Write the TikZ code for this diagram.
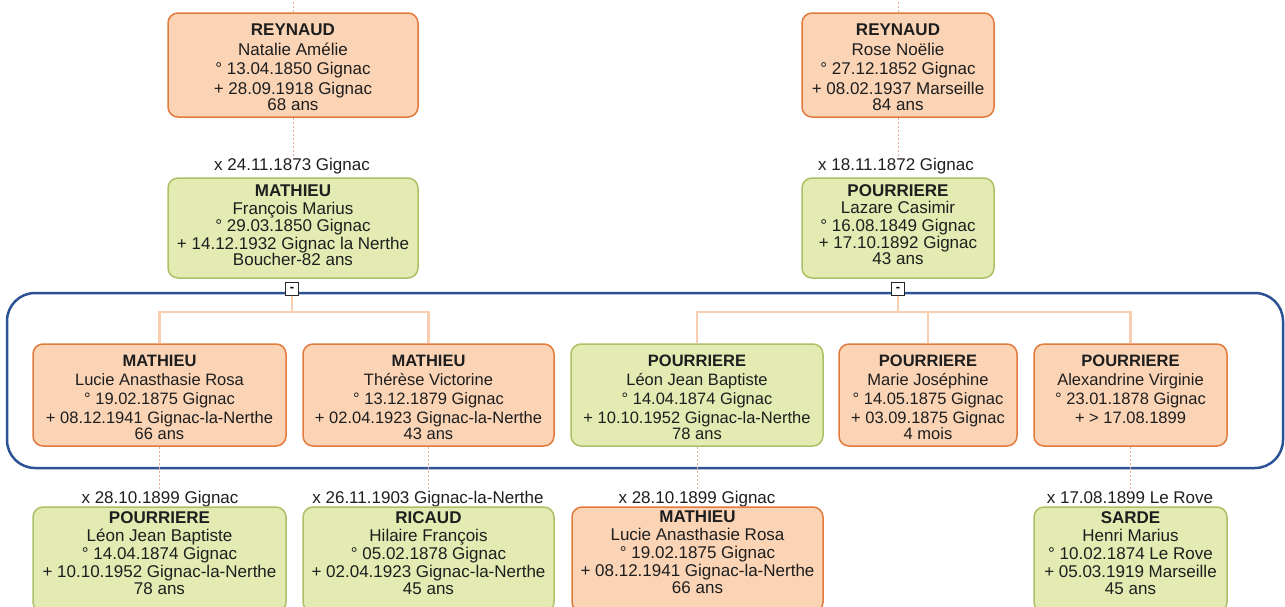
\documentclass[tikz,border=0pt]{standalone}
\usepackage{fontspec}
\setmainfont{Liberation Sans}
\usetikzlibrary{calc}
\definecolor{ofill}{RGB}{251,212,182}
\definecolor{odraw}{RGB}{226,122,62}
\definecolor{gfill}{RGB}{227,234,178}
\definecolor{gdraw}{RGB}{172,192,102}
\definecolor{conncol}{RGB}{249,206,176}
\definecolor{dashcol}{RGB}{238,170,140}
\definecolor{framecol}{RGB}{44,82,150}
\definecolor{txtcol}{RGB}{30,30,30}
\tikzset{
 pbox/.style={rectangle, rounded corners=10pt, line width=1.5pt, inner sep=0pt},
 obox/.style={pbox, draw=odraw, fill=ofill},
 gbox/.style={pbox, draw=gdraw, fill=gfill},
 atext/.style={align=center, inner sep=0pt, text=txtcol, font=\fontsize{17}{19.5}\selectfont},
 ctext/.style={align=center, inner sep=0pt, text=txtcol, font=\fontsize{17}{17.5}\selectfont},
 etext/.style={align=center, inner sep=0pt, text=txtcol, font=\fontsize{16.5}{19}\selectfont},
 ftext/.style={align=center, inner sep=0pt, text=txtcol, font=\fontsize{17}{18}\selectfont},
 lbl/.style={inner sep=0pt, text=txtcol, font=\fontsize{17}{19}\selectfont},
 conn/.style={draw=conncol, line width=2.5pt},
 kin/.style={draw=dashcol, line width=0.8pt, dash pattern=on 2pt off 2pt},
 toggle/.style={draw=black!85, fill=white, line width=1.2pt, minimum size=13pt, inner sep=0pt, font=\fontsize{13}{13}\bfseries},
 grp/.style={draw=framecol, line width=2.5pt, rounded corners=28pt, inner sep=0pt},
}
% name, box style, x1, x2, ytop, ybot, text style, first baseline offset, text
\newcommand\person[9]{%
 \node[#2, minimum width={(#4-#3)*1pt}, minimum height={(#6-#5)*1pt}] (#1) at ({(#3+#4)/2},{(#5+#6)/2}) {};
 \node[#7, anchor=north] (#1t) at ({(#3+#4)/2},{#5+#8-12}) {#9};
}
\begin{document}
\begin{tikzpicture}[x=1pt,y=-1pt]
\useasboundingbox (0,0) rectangle (1285,606);
\clip (0,0) rectangle (1285,606);

% group frame
\node[grp, minimum width=1276pt, minimum height=175pt] (group) at (645,380.5) {};

% generation 1
\person{A}{obox}{168}{418}{13}{117}{atext}{23}{\textbf{REYNAUD}\\Natalie Amélie\\° 13.04.1850 Gignac\\+ 28.09.1918 Gignac\\[-3.5pt]68 ans}
\person{B}{obox}{802}{994}{13}{117}{atext}{23}{\textbf{REYNAUD}\\Rose Noëlie\\° 27.12.1852 Gignac\\+ 08.02.1937 Marseille\\[-3.5pt]84 ans}

% generation 2
\node[lbl, anchor=base] (Cl) at (292,170) {x 24.11.1873 Gignac};
\node[lbl, anchor=base] (Dl) at (896,170) {x 18.11.1872 Gignac};
\person{C}{gbox}{168}{418}{178}{278}{ctext}{19}{\textbf{MATHIEU}\\François Marius\\° 29.03.1850 Gignac\\+ 14.12.1932 Gignac la Nerthe\\[-1pt]Boucher-82 ans}
\person{D}{gbox}{802}{994}{178}{278}{ctext}{18}{\textbf{POURRIERE}\\Lazare Casimir\\° 16.08.1849 Gignac\\+ 17.10.1892 Gignac\\[-1.5pt]43 ans}

% generation 3
\person{E1}{obox}{33}{286}{344}{446}{etext}{23}{\textbf{MATHIEU}\\Lucie Anasthasie Rosa\\° 19.02.1875 Gignac\\+ 08.12.1941 Gignac-la-Nerthe\\[-3pt]66 ans}
\person{E2}{obox}{303}{554}{344}{446}{etext}{23}{\textbf{MATHIEU}\\Thérèse Victorine\\° 13.12.1879 Gignac\\+ 02.04.1923 Gignac-la-Nerthe\\[-3pt]43 ans}
\person{E3}{gbox}{571}{823}{344}{446}{etext}{23}{\textbf{POURRIERE}\\Léon Jean Baptiste\\° 14.04.1874 Gignac\\+ 10.10.1952 Gignac-la-Nerthe\\[-3pt]78 ans}
\person{E4}{obox}{839}{1017}{344}{446}{etext}{23}{\textbf{POURRIERE}\\Marie Joséphine\\° 14.05.1875 Gignac\\+ 03.09.1875 Gignac\\[-3pt]4 mois}
\person{E5}{obox}{1034}{1227}{344}{446}{etext}{23}{\textbf{POURRIERE}\\Alexandrine Virginie\\° 23.01.1878 Gignac\\+ > 17.08.1899}

% spouses
\node[lbl, anchor=base] (F1l) at (160,503) {x 28.10.1899 Gignac};
\node[lbl, anchor=base] (F2l) at (428,503) {x 26.11.1903 Gignac-la-Nerthe};
\node[lbl, anchor=base] (F3l) at (697,503) {x 28.10.1899 Gignac};
\node[lbl, anchor=base] (F4l) at (1130,503) {x 17.08.1899 Le Rove};
\person{F1}{gbox}{33}{286}{507}{612}{ftext}{16}{\textbf{POURRIERE}\\Léon Jean Baptiste\\° 14.04.1874 Gignac\\+ 10.10.1952 Gignac-la-Nerthe\\[-1pt]78 ans}
\person{F2}{gbox}{303}{554}{507}{612}{ftext}{16}{\textbf{RICAUD}\\Hilaire François\\° 05.02.1878 Gignac\\+ 02.04.1923 Gignac-la-Nerthe\\[-1pt]45 ans}
\person{F3}{obox}{572}{823}{507}{612}{ftext}{16}{\textbf{MATHIEU}\\Lucie Anasthasie Rosa\\° 19.02.1875 Gignac\\+ 08.12.1941 Gignac-la-Nerthe\\[-1pt]66 ans}
\person{F4}{gbox}{1034}{1227}{507}{612}{ftext}{16}{\textbf{SARDE}\\Henri Marius\\° 10.02.1874 Le Rove\\+ 05.03.1919 Marseille\\[-1pt]45 ans}

% dashed kinship lines
\coordinate (Atop) at ($(A.north)+(0,-14)$);
\coordinate (Btop) at ($(B.north)+(0,-14)$);
\draw[kin] (Atop) -- (A.north);
\draw[kin] (Btop) -- (B.north);
\draw[kin] (A.south) -- (A.south |- Cl.north);
\draw[kin] (B.south) -- (B.south |- Dl.north);
\draw[kin] (E1.south) -- (E1.south |- F1l.north);
\draw[kin] (E2.south) -- (E2.south |- F2l.north);
\draw[kin] (E3.south) -- (E3.south |- F3l.north);
\draw[kin] (E5.south) -- (E5.south |- F4l.north);

% children connectors
\node[toggle] (sqL) at (292,289) {-};
\node[toggle] (sqR) at (898,289) {-};
\coordinate (jL) at (292,312);
\coordinate (jR) at (898,312);
\draw[conn] (sqL.south) -- (jL);
\draw[conn] (sqR.south) -- (jR);
\draw[conn] (E1.north) |- (jL);
\draw[conn] (E2.north) |- (jL);
\draw[conn] (E3.north) |- (jR);
\draw[conn] (E4.north) -- (E4.north |- jR);
\draw[conn] (E5.north) |- (jR);
\end{tikzpicture}
\end{document}
